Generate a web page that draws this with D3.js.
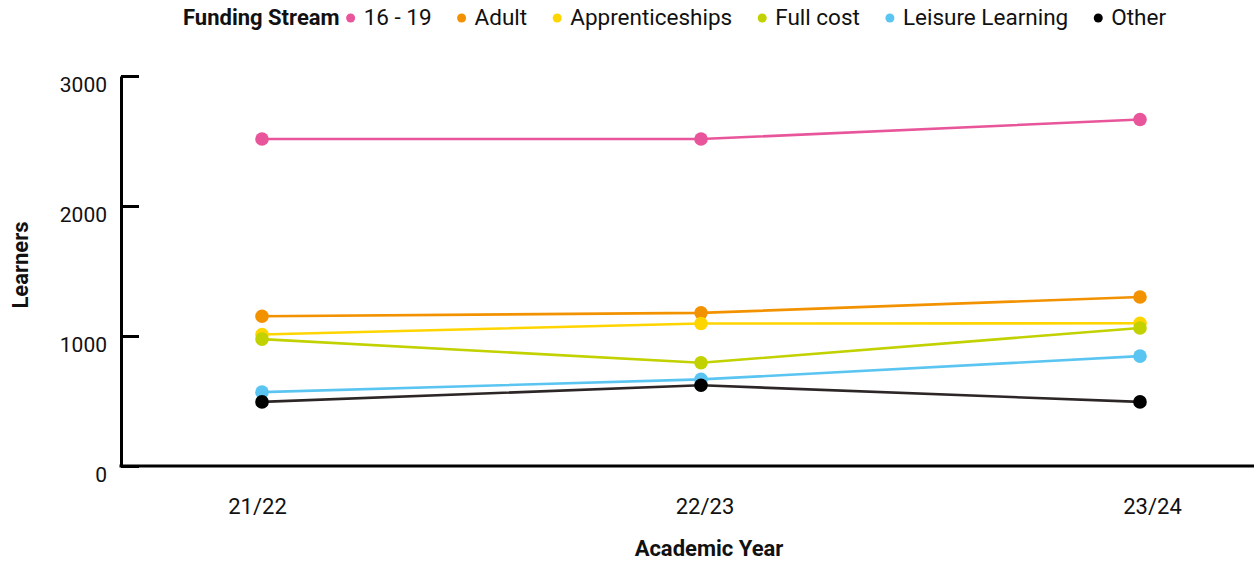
<!DOCTYPE html>
<html><head><meta charset="utf-8">
<script src="https://cdn.jsdelivr.net/npm/d3@7"></script>
<style>body{margin:0;background:#fff;}svg{display:block;font-family:Roboto,sans-serif;}</style>
</head><body>
<svg id="c" width="1254" height="565"></svg>
<script>
const years = ["21/22","22/23","23/24"];
const seriesNames = ["16 - 19","Adult","Apprenticeships","Full cost","Leisure Learning","Other"];
const v1619 = [2515, 2515, 2665];
const vAdult = [1152, 1178, 1300];
const vApp = [1012, 1096, 1098];
const vFull = [976, 794, 1062];
const vLeisure = [568, 666, 845];
const vOther = [493, 621, 493];
const yTicks = [0, 1000, 2000, 3000];
const colors = ["#e8559a","#f39200","#ffd500","#c2d100","#5bc5f2","#000000"];
const lineColors = ["#e8559a","#f39200","#ffd500","#c2d100","#5bc5f2","#2d2627"];
const allValues = [v1619, vAdult, vApp, vFull, vLeisure, vOther];

const svg = d3.select("#c");
const x = d3.scalePoint().domain(years).range([262, 1140]);
const xLabel = d3.scalePoint().domain(years).range([257, 1152]);
const y = d3.scaleLinear().domain([0, 3000]).range([466, 76]);

// y axis
const ya = svg.append("g").attr("transform","translate(121,0)")
  .call(d3.axisRight(y).tickValues(yTicks).tickSize(18).tickSizeOuter(0).tickFormat(d3.format("d")));
ya.select(".domain").attr("stroke","#000").attr("stroke-width",3);
ya.selectAll(".tick line").attr("stroke","#000").attr("stroke-width",3);
ya.selectAll(".tick text").attr("x",-14).attr("y",-7).attr("dy","1.05em").attr("text-anchor","end")
  .attr("font-size",21).attr("fill","#111").attr("font-family","Roboto");

// x axis
const xa = svg.append("g").attr("transform","translate(0,466)")
  .call(d3.axisBottom(xLabel).tickSize(0).tickPadding(32));
xa.select(".domain").remove();
svg.append("line").attr("x1",119.5).attr("x2",1254).attr("y1",466).attr("y2",466)
  .attr("stroke","#000").attr("stroke-width",3);
xa.selectAll(".tick text").attr("font-size",22).attr("fill","#111").attr("font-family","Roboto");

// lines
const line = d3.line().x((d,i)=>x(years[i])).y(d=>y(d));
allValues.forEach((vals, k) => {
  svg.append("path").datum(vals).attr("d", line).attr("fill","none")
    .attr("stroke", lineColors[k]).attr("stroke-width", 2.6);
});
allValues.forEach((vals, k) => {
  svg.append("g").selectAll("circle").data(vals).join("circle")
    .attr("cx",(d,i)=>x(years[i])).attr("cy",d=>y(d)).attr("r",6.8).attr("fill",colors[k]);
});

// axis titles
svg.append("text").attr("x",709).attr("y",556).attr("text-anchor","middle")
  .attr("font-size",22).attr("font-weight","bold").attr("fill","#111").text("Academic Year");
svg.append("text").attr("transform","translate(28,265) rotate(-90)").attr("text-anchor","middle")
  .attr("font-size",22).attr("font-weight","bold").attr("fill","#111").text("Learners");

// legend
const lg = svg.append("g");
let lx = 183;
const ly = 25;
const title = lg.append("text").attr("x",lx).attr("y",ly).attr("font-size",22).attr("font-weight","bold")
  .attr("fill","#111").text("Funding Stream");
lx += title.node().getComputedTextLength() + 11;
seriesNames.forEach((name,k) => {
  lg.append("circle").attr("cx",lx).attr("cy",ly-7).attr("r",4.5).attr("fill",colors[k]);
  const t = lg.append("text").attr("x",lx+13).attr("y",ly).attr("font-size",22.5).attr("fill","#111").text(name);
  lx += 13 + t.node().getComputedTextLength() + 30;
});
</script>
</body></html>
